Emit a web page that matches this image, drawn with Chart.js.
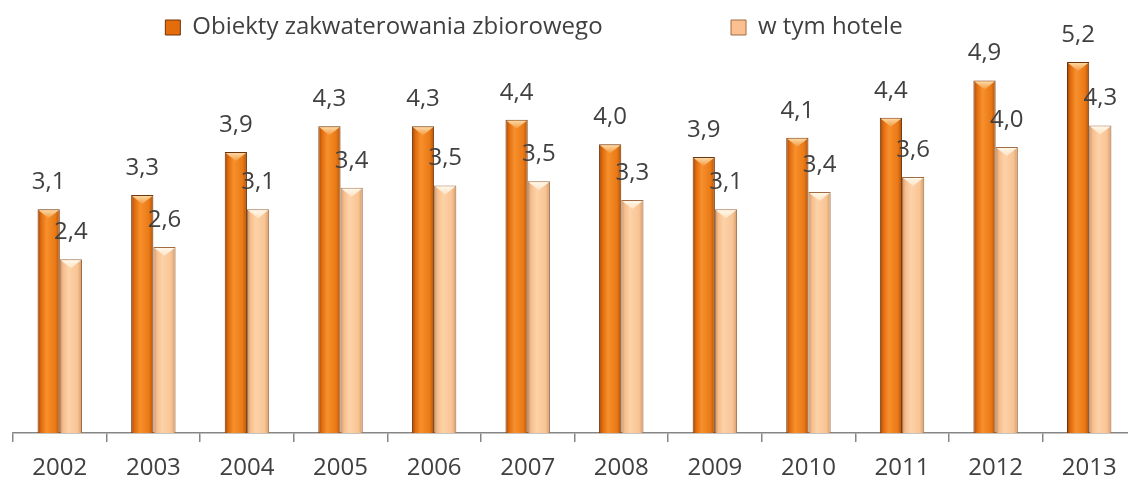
<!DOCTYPE html>
<html><head><meta charset="utf-8">
<script src="https://cdn.jsdelivr.net/npm/chart.js@4"></script>
<style>html,body{margin:0;padding:0;overflow:hidden;background:#fff}#wrap{width:1136px;height:480px}</style>
</head><body><div id="wrap"><canvas id="c" width="1136" height="480"></canvas></div>
<script>
const categories = ['2002','2003','2004','2005','2006','2007','2008','2009','2010','2011','2012','2013'];
const seriesNames = ['Obiekty zakwaterowania zbiorowego', 'w tym hotele'];
const totalValues = [3.13, 3.33, 3.93, 4.29, 4.29, 4.38, 4.04, 3.86, 4.13, 4.41, 4.93, 5.19];
const hotelValues = [2.43, 2.60, 3.13, 3.43, 3.46, 3.52, 3.26, 3.13, 3.37, 3.58, 4.00, 4.30];
const yMax = 5.5;

const FONT = '"Open Sans", "DejaVu Sans", sans-serif';
const TEXT = '#404040';
const palettes = [
  {stops:['#9c4407','#e06a0c','#f7902c','#ea7a16','#b2520a'], border:'#6e340a', bevel:['#fde0b0','#f39a40'], legend:'#e46c0a'},
  {stops:['#c98e5e','#f6bd8c','#fdd2a8','#f8c494','#d29a6a'], border:'#a06c44', bevel:['#fffaf0','#fde2c0'], legend:'#fac090'}
];
const legendPad = ['\u00A0'.repeat(19), '\u00A0'.repeat(13)];

const fmt = v => v.toFixed(1).replace('.', ',');

const barStyle = {
  id: 'barStyle',
  beforeDatasetsDraw(chart) {
    const ctx = chart.ctx;
    chart.data.datasets.forEach((ds, di) => {
      const meta = chart.getDatasetMeta(di);
      const p = palettes[di];
      meta.data.forEach(el => {
        const {x, width} = el.getProps(['x','width'], true);
        const g = ctx.createLinearGradient(x - width/2, 0, x + width/2, 0);
        g.addColorStop(0, p.stops[0]); g.addColorStop(0.15, p.stops[1]);
        g.addColorStop(0.4, p.stops[2]); g.addColorStop(0.8, p.stops[3]); g.addColorStop(1, p.stops[4]);
        el.options = Object.assign({}, el.options, {backgroundColor: g});
      });
    });
  },
  afterDatasetsDraw(chart) {
    const ctx = chart.ctx;
    ctx.save();
    chart.data.datasets.forEach((ds, di) => {
      const meta = chart.getDatasetMeta(di);
      const p = palettes[di];
      meta.data.forEach(el => {
        const {x, y, width} = el.getProps(['x','y','width'], true);
        const l = x - width/2 + 1, r = x + width/2 - 1;
        const g = ctx.createLinearGradient(0, y, 0, y + 9);
        g.addColorStop(0, p.bevel[0]); g.addColorStop(1, p.bevel[1]);
        ctx.beginPath(); ctx.moveTo(l, y + 1); ctx.lineTo(r, y + 1); ctx.lineTo(x, y + 9); ctx.closePath();
        ctx.fillStyle = g; ctx.fill();
      });
    });
    ctx.font = '24px ' + FONT;
    ctx.fillStyle = TEXT; ctx.textAlign = 'center'; ctx.textBaseline = 'middle';
    chart.data.datasets.forEach((ds, di) => {
      const meta = chart.getDatasetMeta(di);
      meta.data.forEach((el, i) => {
        const {x, y} = el.getProps(['x','y'], true);
        ctx.fillText(fmt(ds.data[i]), x, y - 27);
      });
    });
    ctx.restore();
  }
};

new Chart(document.getElementById('c'), {
  type: 'bar',
  data: {
    labels: categories,
    datasets: [
      {label: seriesNames[0], data: totalValues, backgroundColor: palettes[0].legend, borderColor: palettes[0].border, borderWidth: 1, barPercentage: 1, categoryPercentage: 0.475},
      {label: seriesNames[1], data: hotelValues, backgroundColor: palettes[1].legend, borderColor: palettes[1].border, borderWidth: 1, barPercentage: 1, categoryPercentage: 0.475}
    ]
  },
  options: {
    responsive: false,
    animation: false,
    devicePixelRatio: 1,
    layout: {padding: {left: 13, right: 0, top: 5.5, bottom: -14.8}},
    plugins: {
      tooltip: {enabled: false},
      legend: {
        position: 'top',
        maxHeight: 34.25,
        labels: {
          font: {family: FONT, size: 24}, color: TEXT, boxWidth: 15, boxHeight: 15, padding: 10,
          generateLabels(chart) {
            const items = Chart.defaults.plugins.legend.labels.generateLabels(chart);
            items.forEach((it, i) => {
              it.text = it.text + legendPad[i];
              it.fillStyle = palettes[i].legend;
              it.strokeStyle = palettes[i].border;
              it.lineWidth = 1;
            });
            return items;
          }
        }
      }
    },
    scales: {
      x: {
        offset: true,
        grid: {offset: true, drawOnChartArea: false, drawTicks: true, tickLength: 9, color: '#868686', lineWidth: 1.5},
        border: {color: '#868686', width: 1.5},
        ticks: {color: TEXT, font: {family: FONT, size: 24}, padding: 12, maxRotation: 0, autoSkip: false}
      },
      y: {display: false, min: 0, max: yMax}
    }
  },
  plugins: [barStyle]
});
</script>
</body></html>
